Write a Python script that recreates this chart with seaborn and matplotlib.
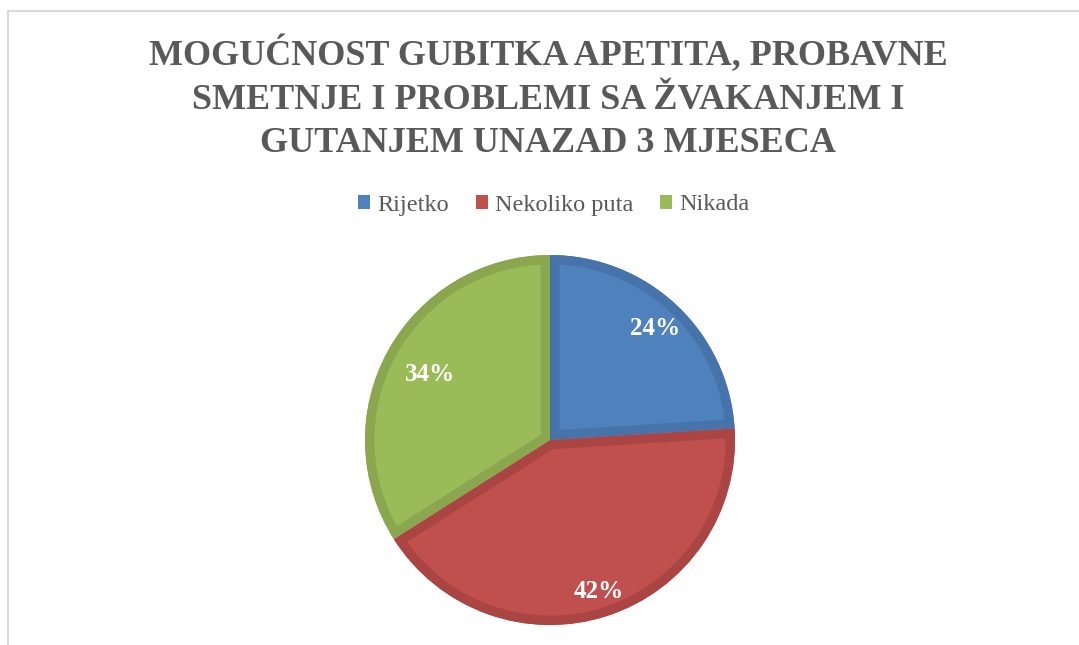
import matplotlib
matplotlib.use("Agg")
import numpy as np
import matplotlib.pyplot as plt
import matplotlib.patches as mpatches
import seaborn as sns

categories = ["Rijetko", "Nekoliko puta", "Nikada"]
values = [24, 42, 34]
title = "MOGUĆNOST GUBITKA APETITA, PROBAVNE\nSMETNJE I PROBLEMI SA ŽVAKANJEM I\nGUTANJEM UNAZAD 3 MJESECA"

fill_colors = ["#4F81BD", "#C0504D", "#9BBB59"]
edge_colors = ["#4673AA", "#AB4543", "#8AA74F"]
label_dist = [0.83, 0.86, 0.74]

sns.set_theme(style="white")
plt.rcParams["font.family"] = ["Liberation Serif", "DejaVu Serif"]

W, H = 1079, 645
fig = plt.figure(figsize=(W / 100, H / 100), dpi=100)
fig.patch.set_facecolor("white")

# frame lines (left and top of chart area)
fig.add_artist(plt.Line2D([7.5 / W, 7.5 / W], [0, 1 - 10.5 / H], color="#D9D9D9", lw=1.5))
fig.add_artist(plt.Line2D([7.5 / W, 1], [1 - 10.5 / H, 1 - 10.5 / H], color="#D9D9D9", lw=1.5))

cx, cy, r = 550, 440, 185
ax = fig.add_axes([(cx - r) / W, (H - cy - r) / H, 2 * r / W, 2 * r / H])
wedges, texts, autotexts = ax.pie(
    values,
    colors=fill_colors,
    startangle=90,
    counterclock=False,
    autopct="%1.0f%%",
    pctdistance=0.81,
    wedgeprops=dict(linewidth=0),
    textprops=dict(color="white", fontsize=18, fontweight="bold"),
)
ax.set_xlim(-1, 1)
ax.set_ylim(-1, 1)
ax.set_aspect("equal")
ax.axis("off")

# darker inner border on each slice: stroke the wedge outline, clipped to the wedge itself
for w, ec, at, d in zip(wedges, edge_colors, autotexts, label_dist):
    border = mpatches.Wedge(w.center, w.r, w.theta1, w.theta2, facecolor="none",
                            edgecolor=ec, linewidth=13.5, joinstyle="miter")
    ax.add_patch(border)
    border.set_clip_path(w.get_path(), w.get_transform())
    mid = np.deg2rad((w.theta1 + w.theta2) / 2)
    at.set_position((d * np.cos(mid), d * np.sin(mid)))
    at.set_zorder(5)

fig.text(548 / W, 1 - 98 / H, title, ha="center", va="center", fontsize=26,
         fontweight="bold", color="#595959", linespacing=1.42)

handles = [mpatches.Patch(facecolor=c, edgecolor="none") for c in fill_colors]
fig.legend(handles, categories, loc="center", bbox_to_anchor=(554 / W, 1 - 205 / H),
           ncol=3, frameon=False, fontsize=17.5, handlelength=0.5, handleheight=0.5,
           handletextpad=0.3, columnspacing=1.1, labelcolor="#595959")

fig.savefig("out.png", dpi=100, facecolor="white")
